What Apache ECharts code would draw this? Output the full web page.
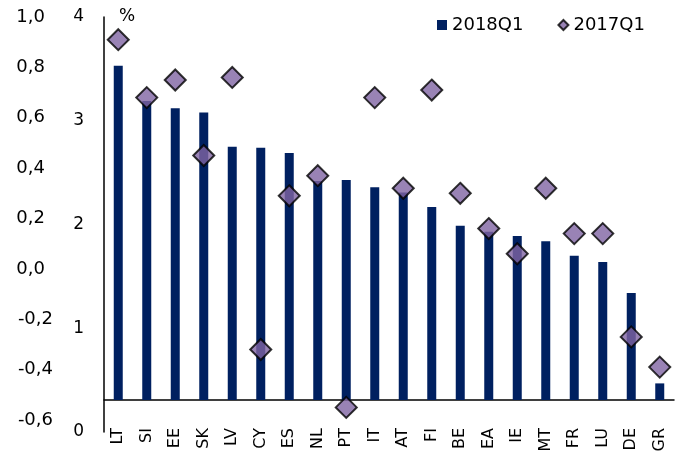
<!DOCTYPE html>
<html>
<head>
<meta charset="utf-8">
<style>
  html, body { margin: 0; padding: 0; background: #fff; }
  #chart { width: 675px; height: 459px; }
</style>
<script src="https://cdn.jsdelivr.net/npm/echarts@6/dist/echarts.min.js"></script>
</head>
<body>
<div id="chart"></div>
<script>
// countries, sorted by the 2018Q1 bar
var countries = ['LT', 'SI', 'EE', 'SK', 'LV', 'CY', 'ES', 'NL', 'PT', 'IT',
                 'AT', 'FI', 'BE', 'EA', 'IE', 'MT', 'FR', 'LU', 'DE', 'GR'];

// bars, read on the inner axis (0 - 4)
var q2018 = [3.53, 3.19, 3.12, 3.08, 2.75, 2.74, 2.69, 2.42, 2.43, 2.36,
             2.31, 2.17, 1.99, 1.93, 1.89, 1.84, 1.70, 1.64, 1.34, 0.47];

// diamonds, read on the outer axis (-0,6 - 1,0)
var q2017 = [0.91, 0.68, 0.75, 0.45, 0.76, -0.32, 0.29, 0.37, -0.55, 0.68,
             0.32, 0.71, 0.30, 0.16, 0.06, 0.32, 0.14, 0.14, -0.27, -0.39];

var FONT = 'DejaVu Sans';

// "0,8" style labels; positive ones get a trailing pad so that they line up
// on the left with the negative ones
function comma(v) {
    var s = v.toFixed(1).replace('.', ',');
    return v < 0 ? s : s + '{pad|}';
}

var chart = echarts.init(document.getElementById('chart'));

var options = {
    animation: false,
    textStyle: { fontFamily: FONT },
    grid: [
        // outer scale (diamonds)
        { left: 104, right: 1, top: 17, bottom: 39, outerBoundsMode: 'none' },
        // inner scale (labels 0..4 + vertical line)
        { left: 104, right: 1, top: 17, bottom: 27, outerBoundsMode: 'none' },
        // bars, cut at the category line
        { left: 104, right: 1, top: 17, bottom: 59, outerBoundsMode: 'none' }
    ],
    legend: {
        left: 432,
        top: 11,
        itemWidth: 10,
        itemHeight: 10,
        itemGap: 34,
        textStyle: { fontFamily: FONT, fontSize: 18, color: '#000' },
        data: [
            { name: '2018Q1', icon: 'rect' },
            { name: '2017Q1', icon: 'diamond' }
        ]
    },
    graphic: [{
        type: 'text',
        left: 119,
        top: 8,
        style: { text: '%', font: '17px "DejaVu Sans"', fill: '#000' }
    }],
    xAxis: [
        { type: 'category', gridIndex: 0, data: countries, show: false },
        { type: 'category', gridIndex: 1, data: countries, show: false },
        {
            type: 'category',
            gridIndex: 2,
            data: countries,
            axisLine: { lineStyle: { color: '#000', width: 1.5 } },
            axisTick: { show: false },
            axisLabel: {
                rotate: 90,
                margin: 28,
                fontFamily: FONT,
                fontSize: 16,
                color: '#000'
            }
        }
    ],
    yAxis: [
        {
            type: 'value',
            gridIndex: 0,
            min: -0.6,
            max: 1.0,
            interval: 0.2,
            splitLine: { show: false },
            axisLine: { show: false },
            axisTick: { show: false },
            axisLabel: {
                margin: 51,
                fontFamily: FONT,
                fontSize: 18,
                color: '#000',
                formatter: comma,
                rich: { pad: { width: 8 } }
            }
        },
        {
            type: 'value',
            gridIndex: 1,
            min: 0,
            max: 4,
            interval: 1,
            splitLine: { show: false },
            axisLine: { show: true, lineStyle: { color: '#000', width: 1.5 } },
            axisTick: { show: false },
            axisLabel: {
                margin: 20,
                fontFamily: FONT,
                fontSize: 17,
                color: '#000'
            }
        },
        {
            type: 'value',
            gridIndex: 2,
            min: 0.31,
            max: 4,
            show: false,
            splitLine: { show: false }
        }
    ],
    series: [
        {
            name: '2018Q1',
            type: 'bar',
            xAxisIndex: 2,
            yAxisIndex: 2,
            data: q2018,
            barWidth: 9,
            clip: true,
            itemStyle: { color: '#002060' },
            z: 2
        },
        {
            name: '2017Q1',
            type: 'scatter',
            xAxisIndex: 0,
            yAxisIndex: 0,
            data: q2017,
            symbol: 'diamond',
            symbolSize: 21,
            itemStyle: { color: '#8064A2', borderColor: '#000', borderWidth: 2 },
            z: 5
        }
    ]
};

chart.setOption(options);
</script>
</body>
</html>
